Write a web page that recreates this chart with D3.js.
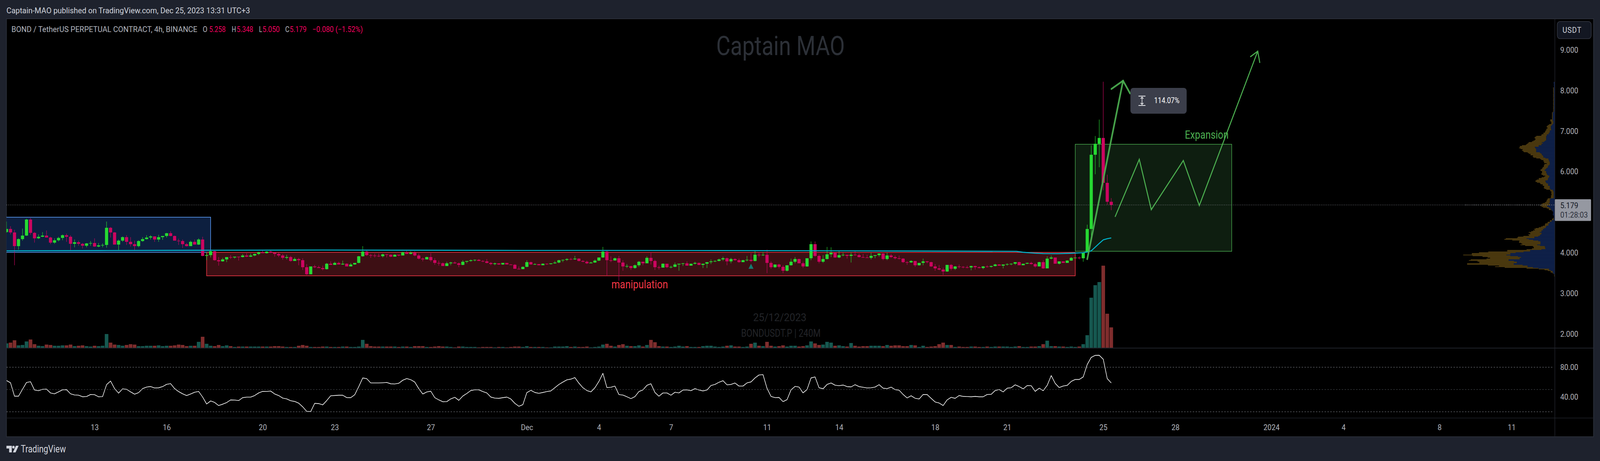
<!DOCTYPE html>
<html><head><meta charset="utf-8">
<script src="https://cdn.jsdelivr.net/npm/d3@7"></script>
<style>html,body{margin:0;padding:0;background:#1e222d;overflow:hidden}svg{display:block}text{font-family:Roboto,"Liberation Sans",sans-serif}</style>
</head><body>
<script>
const firstOpen = 4.510;
const closes = [
4.587,4.501,4.164,4.337,4.424,4.819,4.491,4.356,4.395,4.424,
4.376,4.250,4.308,4.366,4.433,4.395,4.221,4.260,4.221,4.173,
4.231,4.241,4.154,4.183,4.193,4.616,4.501,4.202,4.299,4.385,
4.270,4.212,4.164,4.289,4.337,4.376,4.404,4.327,4.385,4.414,
4.482,4.414,4.299,4.290,4.212,4.164,4.270,4.202,4.327,3.923,
3.942,4.039,3.817,3.788,3.836,3.894,3.884,3.904,3.894,3.933,
3.904,3.933,3.971,4.010,3.990,4.029,4.000,3.971,3.933,3.875,
3.894,3.798,3.846,3.817,3.644,3.470,3.663,3.644,3.624,3.596,
3.730,3.701,3.750,3.711,3.730,3.663,3.711,3.750,3.913,4.029,
3.942,3.933,3.925,3.915,3.961,3.952,3.904,3.952,3.933,4.010,
3.971,4.000,3.933,3.856,3.836,3.894,3.817,3.750,3.742,3.673,
3.740,3.759,3.740,3.701,3.779,3.798,3.817,3.827,3.798,3.788,
3.750,3.721,3.740,3.711,3.750,3.711,3.704,3.605,3.596,3.653,
3.769,3.711,3.721,3.692,3.730,3.721,3.740,3.759,3.817,3.825,
3.846,3.838,3.856,3.798,3.779,3.740,3.759,3.807,3.884,4.029,
3.817,3.810,3.865,3.759,3.663,3.673,3.624,3.692,3.779,3.740,
3.875,3.798,3.644,3.634,3.730,3.644,3.653,3.711,3.730,3.740,
3.682,3.730,3.750,3.701,3.730,3.769,3.788,3.798,3.836,3.865,
3.788,3.846,3.817,3.769,3.817,3.827,3.798,3.952,3.942,3.950,
3.750,3.644,3.711,3.653,3.557,3.692,3.779,3.846,3.740,3.663,
3.865,4.212,3.923,3.779,3.846,3.961,4.000,3.884,3.942,3.950,
3.923,3.952,3.942,3.894,3.885,3.875,3.923,3.942,3.981,3.846,
3.933,3.894,3.865,3.856,3.769,3.762,3.798,3.692,3.750,3.788,
3.769,3.663,3.615,3.586,3.538,3.701,3.605,3.663,3.653,3.644,
3.638,3.673,3.644,3.624,3.663,3.653,3.673,3.711,3.682,3.711,
3.721,3.730,3.769,3.692,3.730,3.750,3.721,3.663,3.769,3.615,
3.856,3.884,3.730,3.788,3.750,3.807,3.875,3.880,3.865,4.010,
4.587,6.417,6.687,6.831,5.724,5.258,5.179];
const highs = [
4.770,4.655,4.565,4.356,4.597,4.838,4.857,4.510,4.453,4.510,
4.549,4.395,4.356,4.395,4.453,4.472,4.433,4.327,4.299,4.241,
4.241,4.289,4.356,4.241,4.231,4.770,4.636,4.510,4.327,4.404,
4.433,4.385,4.299,4.308,4.385,4.433,4.433,4.404,4.443,4.414,
4.491,4.530,4.424,4.347,4.327,4.241,4.299,4.327,4.356,4.395,
4.010,4.067,4.048,3.894,3.875,3.894,3.942,3.904,3.904,3.971,
3.990,3.981,3.981,4.029,4.067,4.039,4.058,4.019,4.000,3.971,
3.952,3.923,3.884,3.875,3.865,3.721,3.663,3.701,3.682,3.682,
3.750,3.788,3.779,3.779,3.807,3.740,3.750,3.750,3.923,4.164,
4.058,3.971,3.981,3.981,3.981,3.971,3.961,3.961,3.952,4.029,
4.048,4.039,4.039,3.981,3.884,3.904,3.990,3.865,3.807,3.759,
3.779,3.779,3.788,3.759,3.817,3.798,3.836,3.836,3.846,3.817,
3.846,3.769,3.759,3.740,3.750,3.750,3.721,3.721,3.663,3.663,
3.817,3.779,3.740,3.721,3.740,3.740,3.740,3.798,3.827,3.836,
3.865,3.875,3.923,3.865,3.817,3.807,3.779,3.836,3.884,4.144,
4.048,3.913,3.884,3.923,3.817,3.721,3.673,3.711,3.798,3.779,
3.913,4.019,3.827,3.682,3.740,3.730,3.682,3.759,3.730,3.750,
3.788,3.730,3.779,3.759,3.730,3.769,3.836,3.817,3.856,3.904,
3.884,3.875,3.865,3.856,3.827,3.923,3.990,4.048,4.019,4.019,
4.077,3.788,3.711,3.730,3.692,3.692,3.856,3.894,3.856,3.779,
3.865,4.279,4.279,3.961,3.942,4.144,4.135,4.019,4.048,4.000,
3.952,4.010,4.039,3.981,3.971,3.952,4.000,3.942,3.990,3.990,
4.000,3.971,3.933,3.933,3.865,3.788,3.817,3.798,3.750,3.856,
3.798,3.779,3.721,3.701,3.634,3.701,3.721,3.673,3.711,3.673,
3.682,3.682,3.682,3.663,3.673,3.692,3.682,3.730,3.721,3.711,
3.740,3.740,3.769,3.779,3.730,3.759,3.779,3.750,3.779,3.817,
3.913,3.933,3.884,3.788,3.788,3.817,3.894,3.884,3.913,4.010,
4.693,6.648,6.879,7.284,8.218,5.926,5.348];
const lows = [
4.491,4.453,3.692,4.077,4.299,4.414,4.443,4.250,4.337,4.385,
4.376,4.212,4.221,4.279,4.308,4.270,4.048,4.135,4.173,4.106,
4.135,4.173,4.144,4.135,4.135,4.125,4.376,4.202,4.058,4.270,
4.193,4.154,4.058,4.135,4.270,4.327,4.327,4.270,4.270,4.318,
4.376,4.404,4.299,4.193,4.116,4.154,4.164,4.202,4.193,3.913,
3.817,3.884,3.807,3.682,3.779,3.769,3.846,3.856,3.807,3.884,
3.894,3.894,3.913,3.942,3.990,3.981,3.990,3.904,3.894,3.827,
3.836,3.779,3.807,3.692,3.576,3.451,3.470,3.624,3.624,3.567,
3.586,3.701,3.701,3.711,3.701,3.663,3.663,3.701,3.740,3.904,
3.923,3.875,3.884,3.894,3.884,3.884,3.894,3.904,3.913,3.933,
3.971,3.961,3.913,3.836,3.788,3.836,3.779,3.701,3.682,3.673,
3.673,3.692,3.730,3.644,3.692,3.740,3.779,3.788,3.798,3.769,
3.740,3.692,3.692,3.701,3.701,3.711,3.701,3.605,3.596,3.596,
3.644,3.711,3.701,3.692,3.692,3.701,3.711,3.730,3.740,3.769,
3.798,3.817,3.827,3.788,3.769,3.721,3.740,3.750,3.798,3.875,
3.432,3.769,3.807,3.307,3.557,3.624,3.576,3.605,3.653,3.692,
3.740,3.711,3.576,3.586,3.634,3.624,3.615,3.644,3.557,3.673,
3.682,3.682,3.711,3.692,3.624,3.624,3.721,3.769,3.788,3.798,
3.692,3.740,3.807,3.750,3.769,3.788,3.769,3.788,3.894,3.923,
3.499,3.605,3.624,3.615,3.499,3.538,3.682,3.740,3.740,3.624,
3.653,3.817,3.904,3.740,3.750,3.836,3.894,3.875,3.865,3.913,
3.856,3.759,3.933,3.884,3.875,3.875,3.836,3.865,3.904,3.817,
3.817,3.875,3.836,3.836,3.750,3.701,3.750,3.653,3.682,3.692,
3.740,3.653,3.557,3.567,3.451,3.528,3.567,3.576,3.615,3.615,
3.615,3.567,3.586,3.615,3.596,3.634,3.634,3.663,3.682,3.615,
3.682,3.692,3.701,3.692,3.692,3.721,3.711,3.634,3.663,3.605,
3.615,3.836,3.730,3.711,3.750,3.750,3.798,3.865,3.836,3.779,
4.010,4.356,5.936,6.109,5.541,5.184,5.050];
const volumes = [
11,13,19,6,7,16,21,9,5,4, 8,7,5,5,6,6,8,4,5,6, 4,3,5,4,5,35,13,8,7,5,
7,9,8,4,4,5,5,5,6,4, 5,5,6,8,7,4,5,5,15,28, 10,5,4,7,4,6,4,2,3,3,
3,3,3,3,3,3,3,4,4,3, 2,2,2,5,7,5,2,2,2,3, 3,2,2,2,3,3,2,2,3,20,
10,4,3,3,3,3,3,3,2,3, 3,2,4,4,4,2,2,3,4,3, 3,2,1,3,3,2,2,2,1,2,
2,2,1,2,2,1,2,3,3,2, 4,2,2,2,2,1,1,3,3,3, 4,2,3,2,2,3,1,2,3,8,
10,5,3,7,9,5,4,4,6,3, 7,20,14,4,3,3,2,3,5,3, 4,2,2,2,4,5,5,3,2,3,
5,6,3,3,2,3,10,13,5,4, 15,5,3,4,6,3,5,5,3,4, 6,16,11,7,8,15,13,5,6,4,
3,12,5,3,4,4,5,5,5,4, 7,5,6,6,4,4,7,6,2,5, 2,3,4,9,13,7,7,2,3,2,
2,3,3,2,2,3,2,3,3,3, 3,2,3,4,2,2,3,3,4,9, 18,4,4,3,3,2,3,2,3,9,
32,128,160,168,210,87,52];
const rsi = [
62.1,59.1,41.0,41.0,50.3,59.5,60.5,49.3,48.4,50.3,50.5,45.3,44.2,46.8,49.6,49.8,44.2,42.6,42.4,40.2,
40.5,43.3,43.0,40.2,40.4,56.5,61.4,51.2,45.1,50.9,50.3,46.8,43.7,45.8,51.2,53.3,54.0,52.1,52.3,53.9,
57.0,57.9,51.2,47.2,44.2,41.8,44.0,46.3,47.4,39.8,30.5,34.6,32.6,28.4,30.2,32.4,36.0,35.8,35.1,39.0,
39.7,39.7,41.9,45.4,47.5,47.4,47.9,44.0,41.9,38.4,37.4,34.9,33.9,31.6,26.7,20.5,20.3,31.4,31.0,29.3,
35.1,41.6,41.9,42.3,42.3,39.1,39.0,43.0,53.9,65.6,64.6,58.8,58.8,58.8,59.1,59.5,57.7,57.5,58.4,62.5,
64.7,63.2,60.0,51.2,43.9,46.7,47.7,39.0,36.0,33.5,33.7,37.4,39.5,35.4,41.2,44.7,48.6,49.6,49.6,47.2,
45.4,39.8,38.4,38.1,39.0,39.8,37.2,31.4,27.4,29.6,45.8,48.9,46.0,44.9,46.0,47.2,48.1,52.4,56.8,60.0,
63.0,64.0,66.1,58.6,52.4,48.6,46.8,52.4,60.9,71.8,52.6,53.0,54.6,43.2,42.5,40.2,37.7,40.4,47.2,49.5,
55.6,57.7,46.0,41.0,45.4,45.4,42.3,46.3,45.4,49.3,49.5,48.4,51.2,49.3,48.1,49.3,55.4,56.8,59.8,61.9,
56.3,56.8,58.8,54.6,54.6,58.9,60.2,65.6,69.6,70.0,51.6,40.7,39.1,39.3,33.7,36.3,49.5,54.2,53.3,45.4,
50.0,65.6,67.0,52.4,51.0,56.8,58.8,55.8,55.1,56.0,53.9,53.5,56.5,53.9,53.0,52.1,52.4,53.3,56.5,51.8,
51.2,53.2,49.8,49.1,43.3,38.6,41.6,38.2,37.2,43.3,43.2,38.1,33.2,31.8,28.4,36.0,39.5,38.1,41.9,40.7,
40.5,40.2,40.7,40.2,40.2,43.3,43.5,48.6,50.0,46.8,51.8,52.4,56.3,53.9,50.9,55.3,55.1,47.5,51.8,48.4,
55.6,68.8,58.2,52.6,54.7,55.6,60.9,63.5,63.5,67.0,83.7,93.3,96.0,96.1,90.7,64.7,58.8];

const profileUp = [
10,10,9,8,9,8,7,9,9,8,8,9,8,8,7,8,9,8,8,9,7,8,8,9,8,7,8,9,8,8,7,9,8,8,9,7,8,7,
12,18,17,17,18,17,17,17,17,18,18,18,10,15,10,15,
21,25,33,33,33,33,30,30,42,42,42,51,51,66,66,72,72,72,72,72,72,81,90,108,99,111,111,135,135,168,165,159,156,156,156,156,
126,117,108,108,99,96,96,78,54,54,48,48,42,42,42,42,48,57,57,60,69,75,84,84,72,72,72,66,66,57,45,48,51,57,57,60,78,78,75,69,57,57,57,42,42,42,42,33,
15,15,9,9,9,9,9,9,9,9,9,36,42,42,42,42,42,51,39,42,63,63,51,42,33,33,24,18,15,15,15,18,15,9,9,9,9,9,12,27,27,42,42,54,54,54,69,75,75,90,99,99,111,111,126,111,111,120,126,138,
171,171,237,216,180,138,120,120,120,120,147,123,84,81,81,78,111,207,207,261,327,372,372,405,372,309,282,294,294,387,387,342,318,318,345,345,270,228,228,183,138,48,48,33,18,18,15,9,3,2,1];
const profileTotal = [
10,10,9,8,9,8,8,15,15,14,14,15,14,14,13,14,15,14,14,15,13,14,14,15,14,13,14,15,14,14,13,15,14,14,15,13,14,13,
18,24,24,24,24,24,24,24,24,24,39,39,36,30,30,30,
48,57,66,69,63,63,72,72,78,81,84,96,96,111,114,156,165,171,165,162,168,180,192,219,225,234,243,276,294,294,300,288,270,276,267,261,
228,219,204,204,183,186,180,156,123,114,96,96,90,90,69,87,90,93,93,102,105,111,120,120,108,108,108,114,111,99,81,90,111,135,135,153,162,162,150,126,120,102,102,90,90,93,87,72,
39,39,30,30,30,30,27,33,33,33,36,60,63,69,69,75,84,102,114,105,123,111,99,69,51,51,27,20,15,15,15,18,15,9,9,9,15,24,24,42,42,60,63,81,84,84,102,117,135,162,174,168,183,198,219,207,207,222,216,264,
309,315,411,423,357,297,300,300,282,273,288,249,183,177,177,192,237,399,399,558,636,696,696,768,690,606,564,543,573,705,720,648,633,633,735,735,561,468,501,420,237,135,87,60,36,36,21,12,6,6,6];

const tickDates = [[2023,10,13],[2023,10,16],[2023,10,20],[2023,10,23],[2023,10,27],[2023,11,1],[2023,11,4],[2023,11,7],[2023,11,11],[2023,11,14],[2023,11,18],[2023,11,21],[2023,11,25],[2023,11,28],[2024,0,1],[2024,0,4],[2024,0,8],[2024,0,11]];
const tickLabels = ["13","16","20","23","27","Dec","4","7","11","14","18","21","25","28","2024","4","8","11"];
const priceTicks = [9,8,7,6,4,3,2];
const rsiTicks = [80,40];
const rsiBands = [80,50,20];

const emaBars   = [1,26,52,80,100,130,150,180,210,240,253.3,254.9,257.9,260,263.6,266.7,270,271,272,274,275,276,277];
const emaPrices = [4.048,4.055,4.062,4.067,4.064,4.058,4.058,4.054,4.048,4.040,4.036,4.013,3.990,3.981,3.978,3.987,4.003,4.019,4.048,4.231,4.318,4.347,4.366];
const bigArrowBars   = [271,279.95];
const bigArrowPrices = [3.843,8.242];
const bigHeadBars    = [277.05,279.95,281.7];
const bigHeadPrices  = [8.040,8.242,7.931];
const pathBars   = [278,284,287,295,299,313.6];
const pathPrices = [4.896,6.303,5.063,6.274,5.166,8.971];
const pathHeadBars   = [311.8,313.6,314.1];
const pathHeadPrices = [8.836,8.971,8.692];
const lastPrice = 5.179;

const W=4467,H=1180,L=18,R=4341,PR=4449,T=48,B=1118,VOLB=890,RSIB=1070;
const barTime = n => new Date(Date.UTC(2023,10,9,8)+(n-1)*4*3600e3);
const x = d3.scaleUtc().domain([Date.UTC(2023,10,13),Date.UTC(2024,0,11)]).range([264,4220]);
const bx = n => x(barTime(n));
const y = d3.scaleLinear().domain([2,9]).range([854.6,128]);
const yv = d3.scaleLinear().domain([0,212]).range([VOLB,678]);
const yr = d3.scaleLinear().domain([20,80]).range([1054,940]);
const opens = [firstOpen,...closes.slice(0,-1)];
const bars = closes.map((c,i)=>({n:i+1,o:opens[i],c,h:highs[i],l:lows[i],v:volumes[i],up:c>=opens[i]}));

// the window may be narrower than the layout: fit the whole 4467-wide layout into it
const svg = d3.select("body").append("svg").attr("width",Math.min(window.innerWidth||W,W)).attr("height",H).attr("viewBox",`0 0 ${W} ${H}`).attr("preserveAspectRatio","none");
svg.append("rect").attr("width",W).attr("height",H).attr("fill","#1e222d");
svg.append("rect").attr("x",L).attr("y",T).attr("width",PR-L).attr("height",B-T).attr("fill","#000").attr("stroke","#2a2e39").attr("stroke-width",2);
svg.append("defs").append("clipPath").attr("id","plot").append("rect").attr("x",L).attr("y",T).attr("width",R-L).attr("height",RSIB-T);

// header
svg.append("text").attr("x",18).attr("y",34).attr("fill","#d1d4dc").attr("font-size",21).attr("textLength",680).attr("lengthAdjust","spacingAndGlyphs").text("Captain-MAO published on TradingView.com, Dec 25, 2023 13:31 UTC+3");
const legendY=82, gray="#b2b5be", red="#f7005f";
const legend=[["BOND / TetherUS PERPETUAL CONTRACT, 4h, BINANCE",32,519,gray],["O",566,13,gray],["5.258",584,46,red],["H",647,12,gray],["5.348",661,46,red],["L",723,9,gray],["5.050",733,48,red],["C",796,12,gray],["5.179",809,47,red],["−0.080 (−1.52%)",872,141,red]];
svg.append("g").selectAll("text").data(legend).join("text").attr("x",d=>d[1]).attr("y",legendY).attr("fill",d=>d[3]).attr("font-size",20).attr("textLength",d=>d[2]).attr("lengthAdjust","spacingAndGlyphs").text(d=>d[0]);

// watermarks
svg.append("text").attr("x",2179).attr("y",141).attr("text-anchor","middle").attr("fill","#2c3037").attr("font-size",68).attr("textLength",359).attr("lengthAdjust","spacingAndGlyphs").text("Captain MAO");
svg.append("text").attr("x",2177).attr("y",822).attr("text-anchor","middle").attr("fill","#222428").attr("font-size",28).text("25/12/2023");
svg.append("text").attr("x",2180).attr("y",862).attr("text-anchor","middle").attr("fill","#222428").attr("font-size",28).attr("textLength",222).attr("lengthAdjust","spacingAndGlyphs").text("BONDUSDT.P | 240M");

const plot = svg.append("g").attr("clip-path","url(#plot)");

// volume
plot.append("g").selectAll("rect").data(bars).join("rect")
 .attr("x",d=>bx(d.n)-5).attr("width",10).attr("y",d=>yv(d.v)).attr("height",d=>VOLB-yv(d.v))
 .attr("fill",d=>d.up?"#165850":"#7f2d2d");

// drawing boxes
const box=(n0,n1,p0,p1,fill,stroke,sw)=>plot.append("rect").attr("x",bx(n0)).attr("y",y(p0)).attr("width",bx(n1)-bx(n0)).attr("height",y(p1)-y(p0)).attr("fill",fill).attr("stroke",stroke).attr("stroke-width",sw);
box(0,52,4.877,4.01,"#0d1f3f","#5b9cf6",1.6);
box(51,268,4.01,3.432,"#3d0f14","#f23645",1.6);
box(268,307.1,6.675,4.036,"#0e1e10","#4caf50",1.4);

// candles
const cg=plot.append("g");
cg.selectAll("rect.w").data(bars).join("rect").attr("class","w")
 .attr("x",d=>bx(d.n)-.6).attr("width",1.2).attr("y",d=>y(d.h)).attr("height",d=>y(d.l)-y(d.h))
 .attr("fill",d=>d.up?"#26d932":"#cc0560");
cg.selectAll("rect.b").data(bars).join("rect").attr("class","b")
 .attr("x",d=>bx(d.n)-4.4).attr("width",8.8)
 .attr("y",d=>y(Math.max(d.o,d.c))).attr("height",d=>Math.max(1.4,Math.abs(y(d.o)-y(d.c))))
 .attr("fill",d=>d.up?"#26d932":"#cc0560");

// ema-like line
const ptLine=d3.line().x(d=>bx(d[0])).y(d=>y(d[1]));
plot.append("path").attr("d",ptLine(emaBars.map((n,i)=>[n,emaPrices[i]]))).attr("fill","none").attr("stroke","#00b4cc").attr("stroke-width",2.6);

// triangle marker
const triBar=187, triTop=3.730, triBot=3.605;
plot.append("path").attr("d",`M${bx(triBar)},${y(triTop)}L${bx(triBar)+7},${y(triBot)}L${bx(triBar)-7},${y(triBot)}Z`).attr("fill","#137c72");

// last price line
svg.append("line").attr("x1",L).attr("x2",R).attr("y1",y(lastPrice)).attr("y2",y(lastPrice)).attr("stroke","#9598a1").attr("stroke-width",1).attr("stroke-dasharray","2 3");

// arrows
const green="#4caf50";
const poly=(bs,ps,sw,op)=>plot.append("path").attr("d",ptLine(bs.map((n,i)=>[n,ps[i]]))).attr("fill","none").attr("stroke",green).attr("stroke-width",sw).attr("stroke-opacity",op).attr("stroke-linecap","round").attr("stroke-linejoin","miter");
poly(bigArrowBars,bigArrowPrices,4.6,.92);
poly(bigHeadBars,bigHeadPrices,4.6,.92);
poly(pathBars,pathPrices,2.8,1);
poly(pathHeadBars,pathHeadPrices,2.8,1);
svg.append("text").attr("x",3308).attr("y",355).attr("fill",green).attr("font-size",29).attr("textLength",122).attr("lengthAdjust","spacingAndGlyphs").text("Expansion");
svg.append("text").attr("x",1707).attr("y",738).attr("fill","#f23645").attr("font-size",29).attr("textLength",158).attr("lengthAdjust","spacingAndGlyphs").text("manipulation");

// measure label
svg.append("rect").attr("x",3156).attr("y",225).attr("width",157).attr("height",66).attr("rx",8).attr("fill","#3b3e4a");
svg.append("path").attr("d","M3178.5,246H3198M3178.5,270H3198M3188.4,249V267M3184.5,252.5L3188.4,248.5L3192.3,252.5M3184.5,263.5L3188.4,267.5L3192.3,263.5").attr("fill","none").attr("stroke","#e6e7ea").attr("stroke-width",1.8);
svg.append("text").attr("x",3222).attr("y",264).attr("fill","#fff").attr("font-size",21).attr("textLength",71).attr("lengthAdjust","spacingAndGlyphs").text("114.07%");

// volume profile
const rowY=d3.scaleLinear().domain([0,profileTotal.length-1]).range([y(8.21),y(3.43)]);
const pw=d3.scaleLinear().domain([0,300]).range([0,100]);
const profile=profileTotal.map((t,i)=>({i,t,u:profileUp[i]}));
const pg=svg.append("g");
pg.selectAll("rect.t").data(profile).join("rect").attr("class","t").attr("x",d=>R-pw(d.t)).attr("width",d=>pw(d.t)-pw(d.u)).attr("y",d=>rowY(d.i)).attr("height",1.1).attr("fill","#85651b");
pg.selectAll("rect.u").data(profile).join("rect").attr("class","u").attr("x",d=>R-pw(d.u)).attr("width",d=>pw(d.u)).attr("y",d=>rowY(d.i)).attr("height",1.1).attr("fill","#1b3a82");
svg.append("line").attr("x1",R-250).attr("x2",R).attr("y1",y(lastPrice)).attr("y2",y(lastPrice)).attr("stroke","#d1d4dc").attr("stroke-width",1).attr("stroke-dasharray","2 4");

// rsi
svg.append("g").selectAll("line").data(rsiBands).join("line").attr("x1",L).attr("x2",4338).attr("y1",d=>yr(d)).attr("y2",d=>yr(d))
 .attr("stroke",d=>d===50?"#55585f":"#8a8d96").attr("stroke-width",1.2).attr("stroke-dasharray","4 4");
plot.append("path").attr("d",d3.line().x((d,i)=>bx(i+1)).y(d=>yr(d))(rsi)).attr("fill","none").attr("stroke","#fff").attr("stroke-width",1.6).attr("stroke-linejoin","round");

// separators
const sep=(x1,y1,x2,y2,c)=>svg.append("line").attr("x1",x1).attr("y1",y1).attr("x2",x2).attr("y2",y2).attr("stroke",c).attr("stroke-width",1.5);
sep(L,891,PR,891,"#2a2e39"); sep(L,RSIB,PR,RSIB,"#1f2228"); sep(R,T,R,B,"#23262e");

// axes
const styleAxis=g=>{g.select(".domain").remove();g.selectAll(".tick line").remove();g.selectAll("text").attr("fill",gray).attr("font-size",20).attr("font-family","Roboto,sans-serif");};
svg.append("g").attr("transform",`translate(${R},0)`).call(d3.axisRight(y).tickValues(priceTicks).tickFormat(d3.format(".3f")).tickSize(0).tickPadding(15)).call(styleAxis);
svg.append("g").attr("transform",`translate(${R},0)`).call(d3.axisRight(yr).tickValues(rsiTicks).tickFormat(d3.format(".2f")).tickSize(0).tickPadding(15)).call(styleAxis);
const dates=tickDates.map(d=>new Date(Date.UTC(d[0],d[1],d[2])));
svg.append("g").attr("transform",`translate(0,1087)`).call(d3.axisBottom(x).tickValues(dates).tickFormat((d,i)=>tickLabels[i]).tickSize(0).tickPadding(0)).call(styleAxis);

// price tag + currency
svg.append("rect").attr("x",R).attr("y",510).attr("width",101).attr("height",55.5).attr("rx",2).attr("fill","#9598a1");
svg.append("text").attr("x",4356).attr("y",533).attr("fill","#131722").attr("font-size",20).text("5.179");
svg.append("text").attr("x",4356).attr("y",557).attr("fill","#2a2e39").attr("font-size",20).text("01:28:03");
svg.append("rect").attr("x",4347.5).attr("y",55).attr("width",95).attr("height",44).attr("rx",8).attr("fill","#131722").attr("stroke","#363a45").attr("stroke-width",1.5);
svg.append("text").attr("x",4389).attr("y",84).attr("text-anchor","middle").attr("fill","#d1d4dc").attr("font-size",20).attr("letter-spacing",1).text("USDT");

// footer logo
svg.append("path").attr("d","M18,1141H33V1158H25.5V1148H18Z M52,1141L43.5,1158H36L44.5,1141Z").attr("fill","#d1d4dc");
svg.append("circle").attr("cx",37.5).attr("cy",1144.5).attr("r",3.5).attr("fill","#d1d4dc");
svg.append("text").attr("x",58).attr("y",1158).attr("fill","#d1d4dc").attr("font-size",25).attr("textLength",126).attr("lengthAdjust","spacingAndGlyphs").text("TradingView");
</script>
</body></html>
